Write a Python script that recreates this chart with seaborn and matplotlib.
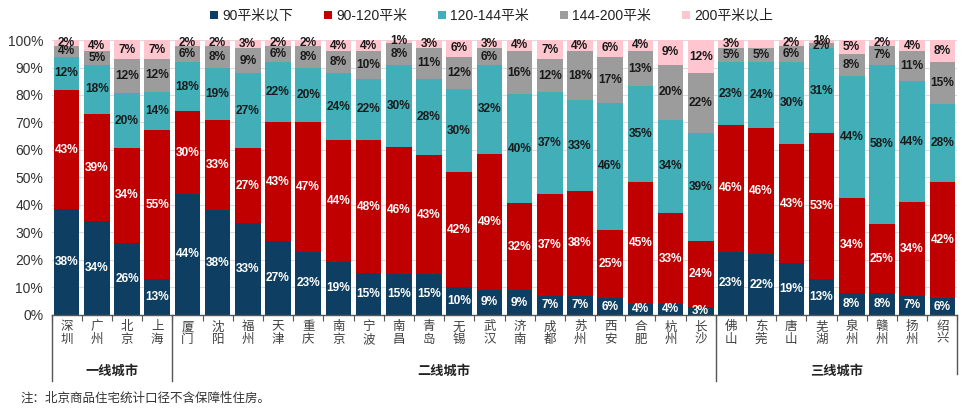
import matplotlib.pyplot as plt
import matplotlib.transforms as mtransforms
from matplotlib.patches import Patch
import seaborn as sns
import numpy as np

# city list, grouped by tier
cities = ['深圳', '广州', '北京', '上海',
          '厦门', '沈阳', '福州', '天津', '重庆', '南京', '宁波', '南昌', '青岛',
          '无锡', '武汉', '济南', '成都', '苏州', '西安', '合肥', '杭州', '长沙',
          '佛山', '东莞', '唐山', '芜湖', '泉州', '赣州', '扬州', '绍兴']
groups = ['一线城市', '二线城市', '三线城市']
group_sizes = [4, 18, 8]

series_names = ['90平米以下', '90-120平米', '120-144平米', '144-200平米', '200平米以上']
below_90 = [38, 34, 26, 13, 44, 38, 33, 27, 23, 19, 15, 15, 15, 10, 9, 9, 7, 7, 6, 4, 4, 3,
            23, 22, 19, 13, 8, 8, 7, 6]
s90_120 = [43, 39, 34, 55, 30, 33, 27, 43, 47, 44, 48, 46, 43, 42, 49, 32, 37, 38, 25, 45, 33, 24,
           46, 46, 43, 53, 34, 25, 34, 42]
s120_144 = [12, 18, 20, 14, 18, 19, 27, 22, 20, 24, 22, 30, 28, 30, 32, 40, 37, 33, 46, 35, 34, 39,
            23, 24, 30, 31, 44, 58, 44, 28]
s144_200 = [4, 5, 12, 12, 6, 8, 9, 6, 8, 8, 10, 8, 11, 12, 6, 16, 12, 18, 17, 13, 20, 22,
            5, 5, 6, 2, 8, 7, 11, 15]
above_200 = [2, 4, 7, 7, 2, 2, 3, 2, 2, 4, 4, 1, 3, 6, 3, 4, 7, 4, 6, 4, 9, 12,
             3, 3, 2, 1, 5, 2, 4, 8]
hidden_labels = [(23, 4)]  # 东莞 top segment has no label in the source

colors = ['#0E3F62', '#C00000', '#41AEB8', '#9C9C9C', '#FFC6CF']
label_colors = ['white', 'white', '#1a1a1a', '#1a1a1a', '#1a1a1a']
note = '注：北京商品住宅统计口径不含保障性住房。'

plt.rcParams['font.family'] = ['Liberation Sans', 'Noto Sans CJK SC', 'DejaVu Sans']

fig = plt.figure(figsize=(9.73, 4.17), dpi=100)
ax = fig.add_axes([0.053, 0.245, 0.931, 0.659])

vals = np.array([below_90, s90_120, s120_144, s144_200, above_200], dtype=float)
shares = vals / vals.sum(axis=0) * 100  # 100% stacked
cum = np.cumsum(shares, axis=0)

ax.set_axisbelow(True)
ax.yaxis.grid(True, color='#dcdcdc', linewidth=0.8)

# draw the cumulative layers from top to bottom so they overlap into a stack
for k in range(4, -1, -1):
    sns.barplot(x=cities, y=cum[k], order=cities, color=colors[k], saturation=1,
                width=0.85, linewidth=0, ax=ax)

for k in range(5):
    for i in range(len(cities)):
        if (i, k) in hidden_labels:
            continue
        yc = cum[k, i] - shares[k, i] / 2
        ax.text(i, yc, f'{int(vals[k, i])}%', ha='center', va='center', fontsize=8.6,
                fontweight='bold', color=label_colors[k], family='Liberation Sans')

ax.set_xlim(-0.5, len(cities) - 0.5)
ax.set_ylim(0, 100)
ax.set_yticks(np.arange(0, 101, 10))
ax.set_yticklabels([f'{v}%' for v in range(0, 101, 10)], fontsize=10, color='#333333')
ax.tick_params(axis='y', length=0, pad=6)

ax.set_xticks(range(len(cities)))
ax.set_xticklabels(['\n'.join(c) for c in cities], fontsize=9, color='#404040',
                   linespacing=0.95, family=['Noto Sans CJK SC'])
ax.tick_params(axis='x', length=0, pad=4)
ax.set_xticks(np.arange(-0.5, len(cities), 1), minor=True)
ax.tick_params(axis='x', which='minor', length=4, color='#555555', width=0.8)
ax.set_xlabel('')
ax.set_ylabel('')

for side in ['top', 'right', 'left']:
    ax.spines[side].set_visible(False)
ax.spines['bottom'].set_color('#555555')
ax.spines['bottom'].set_linewidth(1.0)

# group separators and group names
trans = mtransforms.blended_transform_factory(ax.transData, ax.transAxes)
edges = np.concatenate([[0], np.cumsum(group_sizes)]) - 0.5
for j, xe in enumerate(edges):
    bottom = -0.215 if j == len(edges) - 1 else -0.24
    ax.plot([xe, xe], [0, bottom], color='#555555', lw=1.0, transform=trans, clip_on=False)
for j, g in enumerate(groups):
    xc = (edges[j] + edges[j + 1]) / 2
    ax.text(xc, -0.205, g, transform=trans, ha='center', va='center', fontsize=9.5,
            fontweight='bold', color='#222222', family=['Noto Sans CJK SC'])

handles = [Patch(facecolor=c, edgecolor='none') for c in colors]
fig.legend(handles, series_names, loc='center', bbox_to_anchor=(0.505, 0.962), ncol=5,
           frameon=False, fontsize=10, handlelength=0.6, handleheight=0.6,
           handletextpad=0.3, columnspacing=2.2, labelcolor='#222222')

fig.text(0.021, 0.045, note, fontsize=9, color='#333333', family=['Noto Sans CJK SC'],
         ha='left', va='center')

fig.savefig('out.png', dpi=100)
plt.close(fig)
